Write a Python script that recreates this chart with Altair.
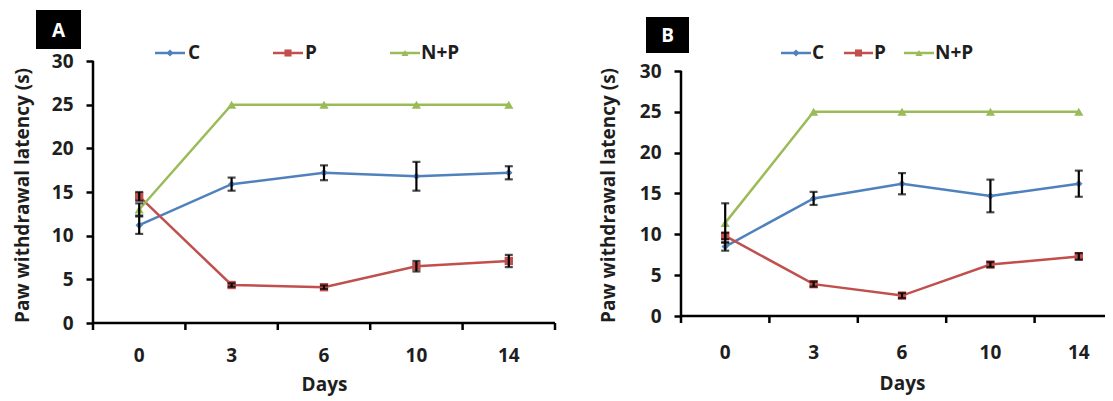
import altair as alt
import pandas as pd

days = ["0", "3", "6", "10", "14"]
series = ["C", "P", "N+P"]
colors = ["#4F81BD", "#C0504D", "#9BBB59"]
shapes = ["diamond", "square", "triangle-up"]
y_ticks = [0, 5, 10, 15, 20, 25, 30]

# Panel A
a_c = [11.2, 15.9, 17.2, 16.8, 17.2]
a_c_err = [1.0, 0.75, 0.85, 1.65, 0.75]
a_p = [14.5, 4.35, 4.1, 6.5, 7.1]
a_p_err = [0.5, 0.2, 0.2, 0.6, 0.7]
a_np = [13.0, 25, 25, 25, 25]
a_np_err = [0.7, 0, 0, 0, 0]

# Panel B
b_c = [8.5, 14.4, 16.2, 14.7, 16.2]
b_c_err = [0.5, 0.8, 1.3, 2.0, 1.6]
b_p = [9.8, 3.9, 2.5, 6.3, 7.3]
b_p_err = [0.4, 0.3, 0.3, 0.3, 0.4]
b_np = [11.4, 25, 25, 25, 25]
b_np_err = [2.4, 0, 0, 0, 0]

FONT = "Open Sans"
FS = 19
TXT = "#1e1e1e"
TICK = 7


def make_df(c, ce, p, pe, n, ne):
    rows = []
    for s, vals, errs in (("C", c, ce), ("P", p, pe), ("N+P", n, ne)):
        for d, v, e in zip(days, vals, errs):
            rows.append({"day": d, "series": s, "value": v,
                         "lo": v - e, "hi": v + e, "err": e})
    return pd.DataFrame(rows)


def panel(tag, df, width, height, ytop, title_x, days_y, label_pad, legend, badge):
    xscale = alt.Scale(type="band", paddingInner=0, paddingOuter=0)
    xaxis = alt.Axis(title="Days", labelAngle=0, domain=False, ticks=False,
                     labelPadding=label_pad, titleY=days_y,
                     titleBaseline="middle")
    xenc = alt.X("day:N", sort=days, scale=xscale, axis=xaxis)
    yscale = alt.Scale(domain=[0, ytop], nice=False, zero=True)
    yaxis = alt.Axis(title="Paw withdrawal latency (s)", values=y_ticks,
                     labelPadding=13, titleX=title_x, titleY=134,
                     titleBaseline="middle", domain=False)

    def Y(f):
        return alt.Y(f, scale=yscale, axis=yaxis)

    col = alt.Color("series:N", scale=alt.Scale(domain=series, range=colors), legend=None)
    shp = alt.Shape("series:N", scale=alt.Scale(domain=series, range=shapes), legend=None)
    siz = alt.Size("series:N", scale=alt.Scale(domain=series, range=[55, 85, 65]), legend=None)

    base = alt.Chart(df)
    lines = base.mark_line(strokeWidth=2.5).encode(x=xenc, y=Y("value:Q"), color=col)
    pts = base.mark_point(filled=True, opacity=1).encode(
        x=xenc, y=Y("value:Q"), color=col, shape=shp, size=siz)
    edf = df[df["err"] > 0]
    eb = alt.Chart(edf)
    rule = eb.mark_rule(color="black", strokeWidth=2.2).encode(
        x=xenc, y=Y("lo:Q"), y2="hi:Q")
    cap_lo = eb.mark_tick(color="black", thickness=2.2, size=8).encode(x=xenc, y=Y("lo:Q"))
    cap_hi = eb.mark_tick(color="black", thickness=2.2, size=8).encode(x=xenc, y=Y("hi:Q"))

    layers = [lines, pts, rule, cap_lo, cap_hi]

    # axis lines: y from 0 to 30, x along the bottom, ticks at band edges
    ddf = pd.DataFrame({"v0": [0], "v1": [y_ticks[-1]]})
    layers.append(alt.Chart(ddf).mark_rule(color="black", strokeWidth=2.5).encode(
        x=alt.value(0), y=Y("v0:Q"), y2="v1:Q"))
    one = alt.Chart(pd.DataFrame({"k": [0]}))
    layers.append(one.mark_rule(color="black", strokeWidth=2.5).encode(
        x=alt.value(0), x2=alt.value(width), y=alt.value(height)))
    tdf = pd.DataFrame({"day": days})
    layers.append(alt.Chart(tdf).mark_rule(color="black", strokeWidth=2.5).encode(
        x=alt.X("day:N", sort=days, scale=xscale, axis=xaxis, bandPosition=0),
        y=alt.value(height), y2=alt.value(height + TICK)))
    layers.append(one.mark_rule(color="black", strokeWidth=2.5).encode(
        x=alt.value(width), y=alt.value(height), y2=alt.value(height + TICK)))

    ly = legend["y"]
    for s, c, sh, (x0, x1, tx) in zip(series, colors, shapes, legend["pos"]):
        layers.append(one.mark_rule(color=c, strokeWidth=2.5).encode(
            x=alt.value(x0), x2=alt.value(x1), y=alt.value(ly)))
        layers.append(one.mark_point(filled=True, opacity=1, shape=sh, color=c, size=50).encode(
            x=alt.value((x0 + x1) / 2), y=alt.value(ly)))
        layers.append(one.mark_text(align="left", baseline="middle", font=FONT,
                                    fontSize=FS, fontWeight="bold", color=TXT).encode(
            x=alt.value(tx), y=alt.value(ly), text=alt.value(s)))

    bx0, bx1, by0, by1 = badge
    layers.append(one.mark_rect(color="black").encode(
        x=alt.value(bx0), x2=alt.value(bx1), y=alt.value(by0), y2=alt.value(by1)))
    layers.append(one.mark_text(align="center", baseline="middle", font=FONT,
                                fontSize=FS, fontWeight="bold", color="white").encode(
        x=alt.value((bx0 + bx1) / 2), y=alt.value((by0 + by1) / 2 + 1), text=alt.value(tag)))

    return alt.layer(*layers).properties(width=width, height=height)


df_a = make_df(a_c, a_c_err, a_p, a_p_err, a_np, a_np_err)
df_b = make_df(b_c, b_c_err, b_p, b_p_err, b_np, b_np_err)

chart_a = panel("A", df_a, 462, 262, 30, -71, 61, 23,
                {"y": -8, "pos": [(62, 92, 95), (180, 210, 212), (297, 327, 328)]},
                (-57, -12, -51, -12))
chart_b = panel("B", df_b, 442, 255, 30 * 255 / 245, -73, 67, 27,
                {"y": -8, "pos": [(100, 130, 131), (163, 192, 193), (223, 253, 254)]},
                (-35, 8, -44, -8))

chart = alt.hconcat(chart_a, chart_b, spacing=41).properties(
    padding={"left": 4, "top": 2, "right": -20, "bottom": 2},
    background="white",
).configure_view(stroke=None).configure_axis(
    grid=False,
    tickColor="black", tickWidth=2.5, tickSize=TICK,
    labelFont=FONT, labelFontSize=FS, labelFontWeight="bold", labelColor=TXT,
    titleFont=FONT, titleFontSize=FS, titleFontWeight="bold", titleColor=TXT,
)

chart.save("out.html", embed_options={"renderer": "svg", "actions": False})
